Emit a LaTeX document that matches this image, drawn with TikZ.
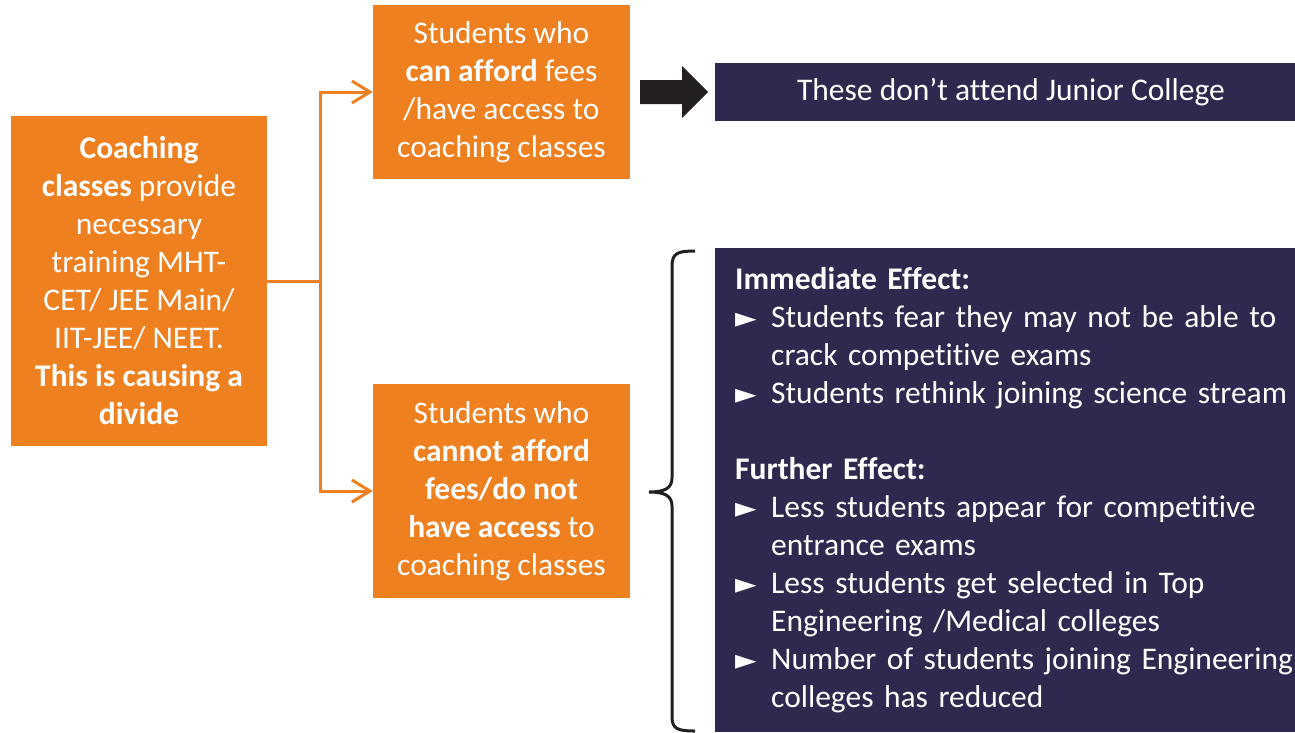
\documentclass[tikz,border=0pt]{standalone}
\usepackage{fontspec}
\setmainfont[Ligatures=NoCommon]{Carlito}
\newfontfamily\symfont{DejaVu Sans}
\usetikzlibrary{arrows.meta}
\definecolor{boxorange}{RGB}{239,128,31}
\definecolor{boxnavy}{RGB}{46,42,79}
\definecolor{arrowblack}{RGB}{35,31,32}
\tikzstyle{cause}=[rectangle,
	fill=boxorange,
	text=white,
	inner sep=0pt,
	align=center,
	font=\fontsize{31.5}{38}\selectfont]
\tikzstyle{effect}=[rectangle,
	fill=boxnavy,
	text=white,
	inner sep=0pt,
	font=\fontsize{31.5}{38}\selectfont]
\tikzstyle{split}=[draw=boxorange,
	line width=3pt,
	-{Straight Barb[length=18pt,width=22pt]}]
\newcommand{\effitem}[1]{\par\hangindent=36pt\hangafter=1\noindent\makebox[36pt][l]{\symfont\fontsize{28}{38}\selectfont ►}#1}

\begin{document}
\begin{tikzpicture}[x=1pt,y=-1pt]
	\useasboundingbox (0,0) rectangle (1295,732);
	\node (coach) [cause, minimum width=256pt, minimum height=330pt] at (139,281)
		{\textbf{Coaching}\\\textbf{classes} provide\\necessary\\training MHT-\\CET/ JEE Main/\\IIT-JEE/ NEET.\\\textbf{This is causing a}\\\textbf{divide}};
	\node (afford) [cause, minimum width=257pt, minimum height=174pt] at (501.5,92)
		{Students who\\\textbf{can afford} fees\\/have access to\\coaching classes};
	\node (cannot) [cause, minimum width=257pt, minimum height=214pt] at (501.5,491)
		{Students who\\\textbf{cannot afford}\\\textbf{fees/do not}\\\textbf{have access} to\\coaching classes};
	\coordinate (junction) at (320,281);
	\draw[split] (coach.east) -- (junction) |- (afford.west);
	\draw[split] (junction) |- (cannot.west);

	\node (college) [effect, minimum width=580pt, minimum height=58pt] at (1005,92)
		{\hspace{12pt}These don’t attend Junior College};
	\fill[arrowblack] (640,80) -- (682,80) -- (682,66) -- (708,92) -- (682,118) -- (682,104) -- (640,104) -- cycle;

	\node (effects) [effect, anchor=west, minimum height=484pt, inner xsep=20pt, text width=580pt, align=left] at (715,490)
		{\textbf{Immediate Effect:}
		\effitem{Students fear they may not be able to\newline crack competitive exams}
		\effitem{Students rethink joining science stream}
		\par\vspace{38pt}\noindent\textbf{Further Effect:}
		\effitem{Less students appear for competitive\newline entrance exams}
		\effitem{Less students get selected in Top\newline Engineering /Medical colleges}
		\effitem{Number of students joining Engineering\newline colleges has reduced}\par};
	% brace in front of the effects
	\draw[arrowblack, line width=3pt] (695,251) .. controls (678,251) and (672,253) .. (672,266) -- (672,478)
		.. controls (672,488) and (665,492) .. (649,492) .. controls (665,492) and (672,496) .. (672,506)
		-- (672,717) .. controls (672,729) and (678,731) .. (695,731);
\end{tikzpicture}
\end{document}
